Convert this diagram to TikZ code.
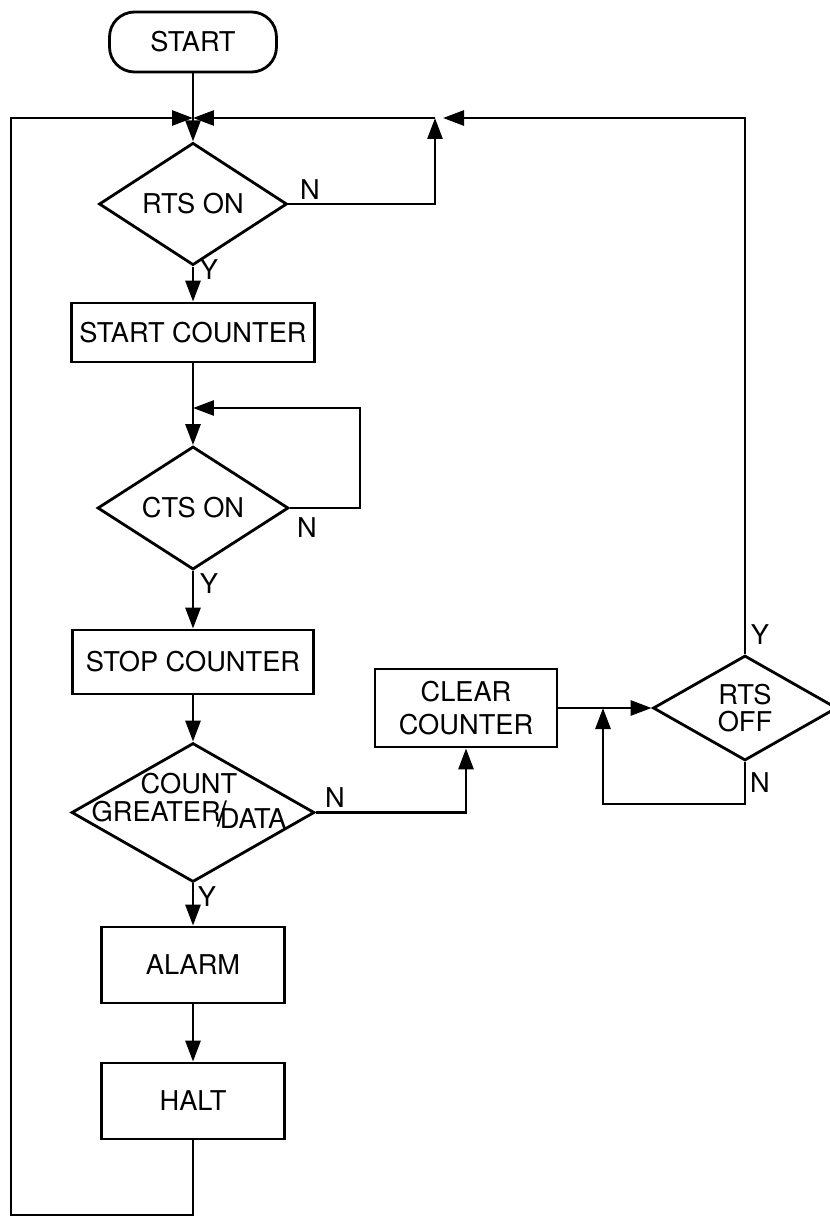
\documentclass[tikz,border=0pt]{standalone}
\usepackage{fontspec}
\setmainfont{TeX Gyre Heros}
\usetikzlibrary{arrows.meta,shapes.geometric}
\begin{document}
\begin{tikzpicture}[x=0.02cm,y=-0.02cm,
  line width=1.6pt,
  every node/.style={font=\fontsize{15.5}{18.5}\selectfont},
  arr/.style={-{Triangle[length=0.42cm,width=0.3cm]}},
  proc/.style={draw, rectangle, inner sep=0pt, align=center},
  dec/.style={draw, diamond, inner sep=0pt, align=center},
  term/.style={draw, rectangle, rounded corners=0.5cm, inner sep=0pt},
  lbl/.style={inner sep=0pt}
]
\useasboundingbox (0,0) rectangle (830,1217);
\clip (0,0) rectangle (830,1217);

% nodes
\node[term, minimum width=3.34cm, minimum height=1.2cm] (start) at (193,42) {START};
\node[dec, minimum width=3.76cm, minimum height=2.16cm] (d1) at (193,204) {RTS ON};
\node[proc, minimum width=4.86cm, minimum height=1.18cm] (b1) at (193,332.5) {START COUNTER};
\node[dec, minimum width=3.82cm, minimum height=2.16cm] (d2) at (193,508) {CTS ON};
\node[proc, minimum width=4.82cm, minimum height=1.28cm] (b2) at (193,662) {STOP COUNTER};
\node[dec, minimum width=4.86cm, minimum height=2.78cm,
  label={[align=center, font=\fontsize{15.5}{16}\selectfont, xshift=-0.08cm, yshift=0.24cm]center:{COUNT\\GREATER\kern-2pt\raisebox{-3pt}{\fontsize{20}{20}\selectfont/}\kern-4pt\raisebox{-4pt}{DATA}}}] (d3) at (193,812.5) {};
\node[proc, minimum width=3.66cm, minimum height=1.52cm] (b3) at (193,965) {ALARM};
\node[proc, minimum width=3.66cm, minimum height=1.52cm] (b4) at (193,1101) {HALT};
\node[proc, minimum width=3.64cm, minimum height=1.56cm] (b5) at (466,708) {CLEAR\\COUNTER};
\node[dec, minimum width=3.68cm, minimum height=2.1cm, font=\fontsize{15.5}{15}\selectfont] (d4) at (745,708) {RTS\\OFF};

% junction and corner coordinates
\coordinate (jA) at (193,118);
\coordinate (jB) at (435,118);
\coordinate (jBr) at (443,118);
\coordinate (cBL) at (11,1215);
\coordinate (cR) at (360,408);
\coordinate (jC) at (193,408);
\coordinate (jD) at (603,708);
\coordinate (cLB) at (603,804);

% connectors
\draw[arr] (start) -- (d1);
\draw[arr] (b4.south) |- (cBL) |- (jA);
\draw[arr] (d4.north) |- (jBr);
\draw[arr] (jB) -- (jA);
\draw[arr] (d1.east) -| (jB);
\draw[arr] (d1) -- (b1);
\draw[arr] (b1) -- (d2);
\draw[arr] (d2.east) -| (cR) -- (jC);
\draw[arr] (d2) -- (b2);
\draw[arr] (b2) -- (d3);
\draw[arr] (d3.east) -| (b5.south);
\draw[arr] (d3) -- (b3);
\draw[arr] (b3) -- (b4);
\draw[arr] (b5) -- (d4);
\draw[arr] (d4.south) |- (cLB) -- (jD);

% branch labels
\node[lbl] (n1) at (310,190) {N};
\node[lbl] (y1) at (209,270) {Y};
\node[lbl] (n2) at (307,528) {N};
\node[lbl] (y2) at (209,584) {Y};
\node[lbl] (n3) at (335,798) {N};
\node[lbl] (y3) at (207,897) {Y};
\node[lbl] (y4) at (760,635) {Y};
\node[lbl] (n4) at (760,783) {N};
\end{tikzpicture}
\end{document}
